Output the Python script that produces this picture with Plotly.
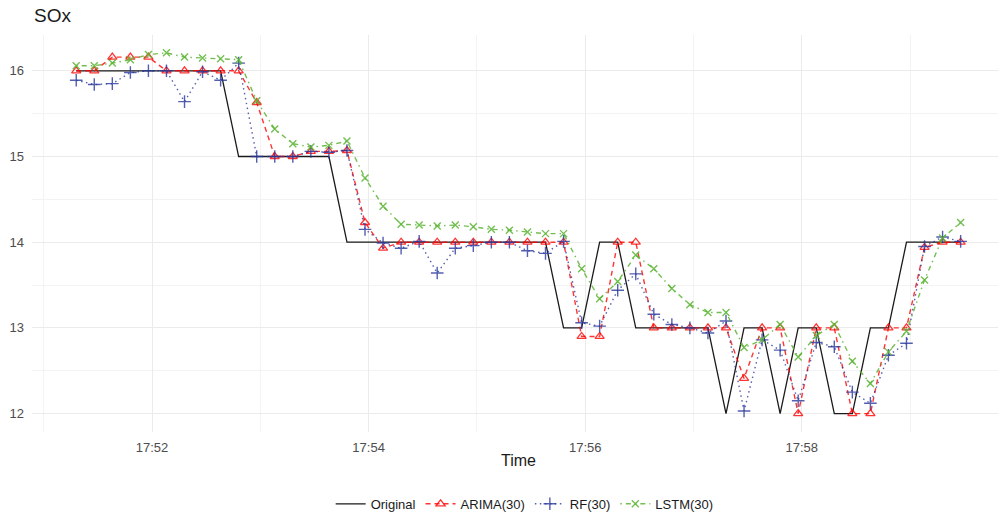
import pandas as pd
import plotly.graph_objects as go

# ---- data ----
start_time = "2023-01-01 17:51:18"
n_points = 50
step = "10s"

original = [16, 16, 16, 16, 16, 16, 16, 16, 16,
            15, 15, 15, 15, 15, 15,
            14, 14, 14, 14, 14, 14, 14, 14, 14, 14, 14, 14,
            13, 13, 14, 14, 13, 13, 13, 13, 13, 12, 13, 13, 12,
            13, 13, 12, 12, 13, 13, 14, 14, 14, 14]

arima = [16, 16, 16.16, 16.16, 16.16, 16, 16, 16, 16, 16,
         15.63, 15.0, 15.0, 15.06, 15.06, 15.07, 14.23, 13.93,
         14, 14, 14, 14, 14, 14, 14, 14, 14, 14,
         12.9, 12.9, 14.0, 14.0, 13, 13, 13, 13, 13, 12.41, 13, 13,
         12.0, 13, 13, 12, 12, 13, 13, 13.94, 14, 14]

rf = [15.89, 15.84, 15.85, 15.98, 16.0, 16.0, 15.64, 15.99, 15.89, 16.09,
      15.0, 15.0, 15.0, 15.06, 15.05, 15.07, 14.15, 13.99, 13.93, 14.01,
      13.64, 13.93, 13.96, 14.0, 14.0, 13.9, 13.87, 14.01, 13.06, 13.02,
      13.44, 13.63, 13.16, 13.04, 13.0, 12.94, 13.08, 12.03, 12.86, 12.74,
      12.15, 12.83, 12.78, 12.25, 12.12, 12.68, 12.82, 13.95, 14.06, 14.01]

lstm = [16.06, 16.06, 16.09, 16.13, 16.19, 16.21, 16.16, 16.15, 16.14, 16.13,
        15.65, 15.32, 15.15, 15.11, 15.13, 15.18, 14.75, 14.42, 14.21, 14.2,
        14.19, 14.2, 14.18, 14.15, 14.14, 14.12, 14.10, 14.10, 13.69, 13.34,
        13.54, 13.85, 13.69, 13.46, 13.27, 13.18, 13.18, 12.77, 12.86, 13.04,
        12.66, 12.91, 13.04, 12.61, 12.35, 12.72, 12.96, 13.56, 14.05, 14.23]

series_names = ["Original", "ARIMA(30)", "RF(30)", "LSTM(30)"]
y_ticks = [12, 13, 14, 15, 16]

times = pd.date_range(start_time, periods=n_points, freq=step)

FONT = "Liberation Sans, Arial, sans-serif"
RED = "rgba(255,0,0,0.8)"
BLUE = "rgba(40,55,155,0.8)"
GREEN = "rgba(90,180,50,0.85)"

fig = go.Figure()
fig.add_trace(go.Scatter(
    x=times, y=original, name=series_names[0], mode="lines",
    line=dict(color="#1a1a1a", width=1.3)))
fig.add_trace(go.Scatter(
    x=times, y=arima, name=series_names[1], mode="lines+markers",
    line=dict(color=RED, width=1.4, dash="5px,4px"),
    marker=dict(symbol="triangle-up-open", size=8, color=RED,
                line=dict(width=1.3, color=RED))))
fig.add_trace(go.Scatter(
    x=times, y=rf, name=series_names[2], mode="lines+markers",
    line=dict(color=BLUE, width=1.4, dash="1.5px,3.5px"),
    marker=dict(symbol="cross-thin", size=9, color=BLUE,
                line=dict(width=1.4, color=BLUE))))
fig.add_trace(go.Scatter(
    x=times, y=lstm, name=series_names[3], mode="lines+markers",
    line=dict(color=GREEN, width=1.4, dash="1.5px,4px,5px,4px"),
    marker=dict(symbol="x-thin", size=7, color=GREEN,
                line=dict(width=1.4, color=GREEN))))

fig.update_layout(
    width=998, height=513,
    margin=dict(l=32, r=0, t=35, b=81, autoexpand=False),
    paper_bgcolor="white", plot_bgcolor="white",
    font=dict(family=FONT, color="#4d4d4d", size=13),
    showlegend=True,
    legend=dict(orientation="h", x=0.51, xanchor="center", y=-0.181, yanchor="middle",
                font=dict(size=13, color="#1a1a1a"), itemwidth=30,
                bgcolor="rgba(0,0,0,0)"),
    annotations=[
        dict(text="SOx", xref="paper", yref="paper", x=0.0, y=1.048,
             xanchor="left", yanchor="middle", showarrow=False,
             font=dict(size=19, color="#1a1a1a", family=FONT)),
        dict(text="Time", xref="paper", yref="paper", x=0.504, y=-0.073,
             xanchor="center", yanchor="middle", showarrow=False,
             font=dict(size=16, color="#1a1a1a", family=FONT)),
    ],
)

fig.update_xaxes(
    type="date",
    range=["2023-01-01 17:50:53.5", "2023-01-01 17:59:48.7"],
    tick0="2023-01-01 17:52:00", dtick=120000, tickformat="%H:%M",
    showgrid=True, gridcolor="#ebebeb", gridwidth=1.1,
    minor=dict(dtick=60000, tick0="2023-01-01 17:51:00", showgrid=True,
               gridcolor="#f3f3f3", gridwidth=0.6),
    zeroline=False, showline=False, ticks="", ticklabelstandoff=6,
    tickfont=dict(size=13, color="#4d4d4d"),
)
fig.update_yaxes(
    range=[11.785, 16.418],
    tickvals=y_ticks,
    showgrid=True, gridcolor="#ebebeb", gridwidth=1.1,
    minor=dict(dtick=0.5, tick0=11.5, showgrid=True, gridcolor="#f3f3f3", gridwidth=0.6),
    zeroline=False, showline=False, ticks="", ticklabelstandoff=7,
    tickfont=dict(size=13, color="#4d4d4d"),
)

fig.write_html("out.html")
